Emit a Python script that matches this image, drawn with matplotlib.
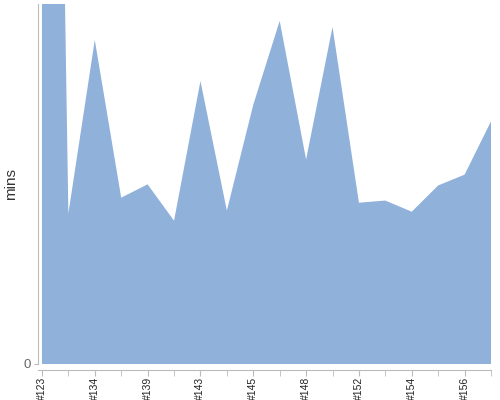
import numpy as np
import matplotlib.pyplot as plt

plt.rcParams['font.family'] = ['Liberation Sans', 'DejaVu Sans']

builds = ['#123', '', '#134', '', '#139', '', '#143', '', '#145', '',
          '#148', '', '#152', '', '#154', '', '#156', '']
mins = [500, 41.8, 90, 46.2, 49.9, 39.8, 78.6, 42.6, 72, 95.3,
        56.8, 93.6, 44.8, 45.4, 42.3, 49.6, 52.6, 67.4]

x = np.arange(len(mins))

fig = plt.figure(figsize=(5, 4), dpi=100)
ax = fig.add_axes([0.076, 0.09, 0.906, 0.90])

ax.fill_between(x, mins, 0, color='#8fb1da', linewidth=0)

ax.set_xlim(-0.15, len(mins) - 1)
ax.set_ylim(0, 100)

ax.set_xticks(x[::2])
ax.set_xticks(x[1::2], minor=True)
ax.set_xticklabels(builds[::2])
ax.tick_params(axis='x', which='both', length=4, color='#bbbbbb', pad=1,
               labelrotation=90, labelsize=7.5, labelcolor='#222222')
for lbl in ax.get_xticklabels():
    lbl.set_ha('center')
    lbl.set_va('top')

ax.set_yticks([0])
ax.set_yticklabels(['0'])
ax.tick_params(axis='y', length=3, color='#bbbbbb', pad=2,
               labelsize=9.5, labelcolor='#666666')
ax.set_ylabel('mins', fontsize=11, color='#333333')
ax.yaxis.set_label_coords(-0.045, 0.5)

for s in ['top', 'right']:
    ax.spines[s].set_visible(False)
ax.spines['left'].set_color('#bbbbbb')
ax.spines['bottom'].set_color('#bbbbbb')
ax.spines['bottom'].set_position(('outward', 4))

plt.savefig('out.png', dpi=100)
